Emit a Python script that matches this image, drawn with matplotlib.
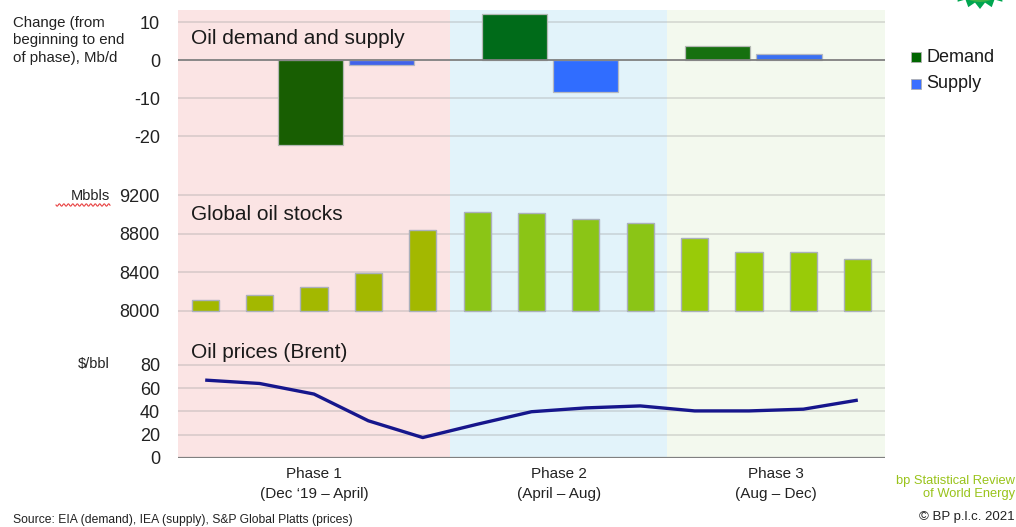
import numpy as np
import matplotlib
matplotlib.use("Agg")
import matplotlib.pyplot as plt
import matplotlib.transforms as mtransforms
from matplotlib.patches import Polygon, Rectangle
from matplotlib.lines import Line2D

# ---------------- data ----------------
phase_labels = ["Phase 1\n(Dec \u201819 \u2013 April)",
                "Phase 2\n(April \u2013 Aug)",
                "Phase 3\n(Aug \u2013 Dec)"]
demand_change = [-22.4, 12.2, 3.9]      # Mb/d, beginning to end of phase
supply_change = [-1.3, -8.4, 1.6]

months = ["Dec 2019", "Jan 2020", "Feb 2020", "Mar 2020", "Apr 2020",
          "May 2020", "Jun 2020", "Jul 2020", "Aug 2020", "Sep 2020",
          "Oct 2020", "Nov 2020", "Dec 2020"]
phase_last_month = ["Apr 2020", "Aug 2020", "Dec 2020"]
stocks = [8114, 8166, 8252, 8390, 8840, 9030, 9020, 8958, 8916,
          8760, 8615, 8615, 8542]                       # Mbbls
brent = [67.0, 64.1, 55.0, 32.0, 17.6, 29.0, 39.8, 43.1, 44.8,
         40.5, 40.5, 42.0, 49.8]                         # $/bbl

change_ticks = [-20, -10, 0, 10]
stock_ticks = [8000, 8400, 8800, 9200]
price_ticks = [0, 20, 40, 60, 80]

# ---------------- style ----------------
FONT = ["Liberation Sans", "DejaVu Sans"]
plt.rcParams["font.family"] = FONT
plt.rcParams["axes.unicode_minus"] = False

phase_bg = ["#fbe4e4", "#e2f3fa", "#f3f9ee"]
demand_cols = ["#185e02", "#006b19", "#16700f"]
supply_cols = ["#4062ea", "#306dff", "#3a70f2"]
stock_cols = ["#a3b800", "#8bc516", "#99cb08"]
grid_kw = dict(color="#9a9a9a", alpha=0.35, lw=1.2)
tick_col = "#222222"

W, H = 1016, 527
fig = plt.figure(figsize=(W / 100, H / 100), dpi=100)
fig.patch.set_facecolor("white")
px = mtransforms.Affine2D().scale(1 / W, -1 / H).translate(0, 1) + fig.transFigure


def rect(x0, y0, x1, y1):
    return [x0 / W, 1 - y1 / H, (x1 - x0) / W, (y1 - y0) / H]


L, R = 178, 885
n = len(months)
xm = np.arange(n)
xlim_m = (-0.5, n - 0.5)
month_phase = np.searchsorted([months.index(m) for m in phase_last_month], xm)
bounds = [-0.5] + [months.index(m) + 0.5 for m in phase_last_month]

# background phase bands
ax_bg = fig.add_axes(rect(L, 10, R, 458), zorder=0)
ax_bg.set_xlim(*xlim_m)
for i in range(len(phase_labels)):
    ax_bg.axvspan(bounds[i], bounds[i + 1], color=phase_bg[i], lw=0)
ax_bg.axis("off")


def style_axis(ax, ticks):
    ax.set_facecolor("none")
    for s in ax.spines.values():
        s.set_visible(False)
    ax.set_xticks([])
    ax.set_yticks(ticks)
    ax.tick_params(axis="y", length=0, pad=13, labelsize=13, labelcolor=tick_col)


# ---- demand & supply ----
ax1 = fig.add_axes(rect(L, 10, R, 160), zorder=2)
style_axis(ax1, change_ticks)
xc = np.arange(len(phase_labels))
ax1.set_xlim(-0.827, 2.647)
ax1.set_ylim(-26.3, 13.27)
for t in change_ticks:
    if t == 0:
        ax1.axhline(0, color="#808080", lw=1.3, zorder=3)
    else:
        ax1.axhline(t, zorder=1, **grid_kw)
ax1.bar(xc - 0.175, demand_change, width=0.32, color=demand_cols,
        edgecolor="#b4b8b4", lw=0.9, zorder=2)
ax1.bar(xc + 0.175, supply_change, width=0.32, color=supply_cols,
        edgecolor="#b4b8c0", lw=0.9, zorder=2)

# ---- stocks ----
ax2 = fig.add_axes(rect(L, 163, R, 318), zorder=2)
style_axis(ax2, stock_ticks)
ax2.set_xlim(*xlim_m)
ax2.set_ylim(7927, 9535)
for t in stock_ticks:
    ax2.axhline(t, zorder=1, **grid_kw)
base = stock_ticks[0]
ax2.bar(xm, np.array(stocks) - base, bottom=base, width=0.5,
        color=[stock_cols[p] for p in month_phase],
        edgecolor="#aab0bc", lw=1.0, zorder=2)

# ---- prices ----
ax3 = fig.add_axes(rect(L, 335, R, 458), zorder=2)
style_axis(ax3, price_ticks)
ax3.set_xlim(*xlim_m)
ax3.set_ylim(0, 105.8)
for t in price_ticks[1:]:
    ax3.axhline(t, zorder=1, **grid_kw)
ax3.axhline(0, color="#808080", lw=1.6, zorder=3)
ax3.plot(xm, brent, color="#16168c", lw=2.4, solid_capstyle="butt", zorder=4)

# panel titles
for y, s in [(39, "Oil demand and supply"), (215, "Global oil stocks"),
             (352, "Oil prices (Brent)")]:
    fig.text(191, y, s, transform=px, ha="left", va="center",
             fontsize=15, color="#1a1a1a", zorder=5)

# axis unit labels
fig.text(13, 16, "Change (from\nbeginning to end\nof phase), Mb/d", transform=px,
         ha="left", va="top", fontsize=10.8, linespacing=1.3, color=tick_col)
fig.text(110, 196, "Mbbls", transform=px, ha="right", va="center",
         fontsize=10.5, color=tick_col)
wx = np.linspace(56, 110, 80)
fig.add_artist(Line2D(wx, 205 + 1.2 * np.sin((wx - 56) * 1.4), transform=px,
                      color="#e84040", lw=0.8))
fig.text(110, 364, "$/bbl", transform=px, ha="right", va="center",
         fontsize=10.5, color=tick_col)

# phase labels under the panels
blend = mtransforms.blended_transform_factory(ax3.transData, px)
for i, lab in enumerate(phase_labels):
    fig.text((bounds[i] + bounds[i + 1]) / 2, 484, lab, transform=blend,
             ha="center", va="center", fontsize=11, linespacing=1.58,
             color=tick_col)

# legend
for y, lab, c in [(57, "Demand", "#006600"), (84, "Supply", "#3a6fff")]:
    fig.add_artist(Rectangle((911, y - 5), 10, 10, transform=px,
                             facecolor=c, edgecolor="#b0b0b0", lw=0.6))
    fig.text(926, y, lab, transform=px, ha="left", va="center",
             fontsize=13, color="#1a1a1a")

# footer
fig.text(13, 520, "Source: EIA (demand), IEA (supply), S&P Global Platts (prices)",
         transform=px, ha="left", va="center", fontsize=8.7, color=tick_col)
fig.text(1015, 487.5, "bp Statistical Review\nof World Energy", transform=px,
         ha="right", va="center", fontsize=9.3, linespacing=1.12,
         color="#99c31a")
fig.text(1015, 517, "\u00a9 BP p.l.c. 2021", transform=px, ha="right",
         va="center", fontsize=9.5, color=tick_col)

# bp helios mark peeking at the top edge
cx, cy = 980, -29
k = 40
ang = np.linspace(0, 2 * np.pi, k, endpoint=False) + np.pi / 2
rad = np.where(np.arange(k) % 2 == 0, 38, 32)
fig.add_artist(Polygon(np.c_[cx + rad * np.cos(ang), cy + rad * np.sin(ang)],
                       closed=True, transform=px, facecolor="#00a650",
                       edgecolor="none"))
fig.add_artist(Polygon(np.c_[cx + 31 * np.cos(ang), cy + 31 * np.sin(ang)],
                       closed=True, transform=px, facecolor="#3cb44a",
                       edgecolor="none"))

fig.savefig("out.png", dpi=100)
